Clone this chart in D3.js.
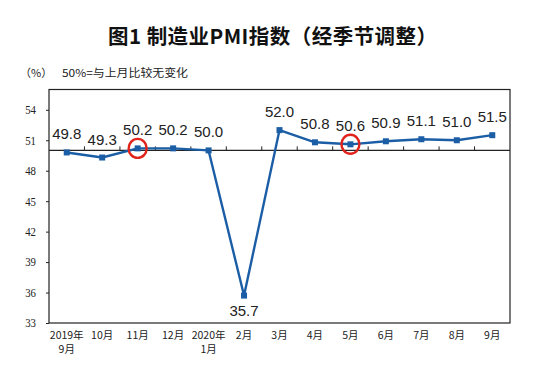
<!DOCTYPE html>
<html><head><meta charset="utf-8">
<script src="https://cdn.jsdelivr.net/npm/d3@7"></script>
<style>body{margin:0;background:#fff}svg{display:block}</style>
</head><body>
<script>
const categories = ["2019年\n9月","10月","11月","12月","2020年\n1月","2月","3月","4月","5月","6月","7月","8月","9月"];
const pmiValues = [49.8,49.3,50.2,50.2,50.0,35.7,52.0,50.8,50.6,50.9,51.1,51.0,51.5];
const yTicks = [33,36,39,42,45,48,51,54];
const highlighted = [2,8];
const title = "图1 制造业PMI指数（经季节调整）";
const unitLabel = "（%）";
const note = "50%=与上月比较无变化";

const W=547,H=379;
const svg=d3.select("body").append("svg").attr("width",W).attr("height",H);
const L=49,R=510,T=89.5,B=323;
const x=d3.scaleBand().domain(d3.range(categories.length)).range([L,R]);
const y=d3.scaleLinear().domain([33,56]).range([B,T]);
const blue="#1b5ea6";

svg.append("text").attr("x",108).attr("y",44)
  .attr("font-family","'Noto Sans CJK SC'").attr("font-weight","bold").attr("font-size",20.5)
  .attr("textLength",329).attr("lengthAdjust","spacing")
  .attr("fill","#111").text(title);
svg.append("text").attr("x",20).attr("y",77).attr("font-family","'Noto Sans CJK SC'")
  .attr("font-size",11).attr("fill","#222").text(unitLabel);
svg.append("text").attr("x",62).attr("y",77).attr("font-family","'Noto Sans CJK SC'")
  .attr("font-size",11).attr("textLength",126).attr("lengthAdjust","spacingAndGlyphs")
  .attr("fill","#222").text(note);

// frame
svg.append("rect").attr("x",L).attr("y",T).attr("width",R-L).attr("height",B-T)
  .attr("fill","none").attr("stroke","#222").attr("stroke-width",1.2);

// y axis
const ya=svg.append("g").attr("transform",`translate(${L},0)`)
  .call(d3.axisLeft(y).tickValues(yTicks).tickSize(3).tickPadding(10));
ya.select(".domain").remove();
ya.selectAll("line").attr("stroke","#222");
ya.selectAll("text").attr("font-family","'Liberation Serif'").attr("font-size",12).attr("fill","#222")
  .attr("transform","scale(0.9,1)").attr("x",-13/0.9);

// 50 line with boundary ticks
const y50=y(50);
svg.append("line").attr("x1",L).attr("x2",R).attr("y1",y50).attr("y2",y50).attr("stroke","#222").attr("stroke-width",1.2);
const bounds=d3.range(1,categories.length).map(i=>x(i));
svg.append("g").selectAll("line").data(bounds).join("line")
  .attr("x1",d=>d).attr("x2",d=>d).attr("y1",y50).attr("y2",y50-4).attr("stroke","#222");

// x labels
const xl=svg.append("g").selectAll("text").data(categories).join("text")
  .attr("x",(d,i)=>x(i)+x.bandwidth()/2).attr("y",339).attr("text-anchor","middle")
  .attr("font-family","'Noto Sans CJK SC'").attr("font-size",10.5).attr("fill","#222");
xl.each(function(d){
  const lines=d.split("\n");const t=d3.select(this);
  lines.forEach((s,k)=>t.append("tspan").attr("x",t.attr("x")).attr("dy",k?14:0).text(s));
});

// line
const cx=i=>x(i)+x.bandwidth()/2;
svg.append("path").datum(pmiValues).attr("fill","none").attr("stroke",blue).attr("stroke-width",2.4)
  .attr("stroke-linejoin","round")
  .attr("d",d3.line().x((d,i)=>cx(i)).y(d=>y(d)));
svg.append("g").selectAll("rect").data(pmiValues).join("rect")
  .attr("x",(d,i)=>cx(i)-3).attr("y",d=>y(d)-3).attr("width",6).attr("height",6).attr("fill",blue);

// data labels
svg.append("g").selectAll("text").data(pmiValues).join("text")
  .attr("x",(d,i)=>cx(i)).attr("y",(d,i)=>d<40?y(d)+20:y(d)-13)
  .attr("text-anchor","middle").attr("font-family","'Liberation Sans'").attr("font-size",15)
  .attr("fill","#222").text(d=>d.toFixed(1));

// red highlight circles
svg.append("g").selectAll("ellipse").data(highlighted).join("ellipse")
  .attr("cx",i=>cx(i)).attr("cy",i=>y(pmiValues[i])).attr("rx",9).attr("ry",9.5)
  .attr("fill","none").attr("stroke","#e0231b").attr("stroke-width",2.4);
</script>
</body></html>
